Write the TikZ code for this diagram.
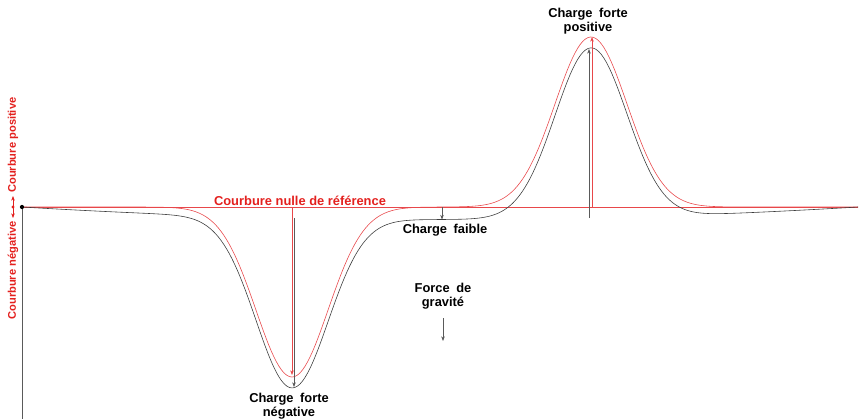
\documentclass[tikz,border=0pt]{standalone}
\usepackage{fontspec}
\setmainfont{Liberation Sans}
\newfontfamily\lblfont[WordSpace=1.8]{Liberation Sans}
\usepackage{tikz}
\usetikzlibrary{arrows.meta}
\definecolor{curvered}{HTML}{E8474A}
\definecolor{textred}{HTML}{E3201E}
\definecolor{curvegray}{HTML}{3C3C3C}
\definecolor{stemgray}{HTML}{5A5A5A}
\tikzset{
  lbl/.style={font=\lblfont\fontsize{11}{11.5}\selectfont\bfseries,align=center,text=black,inner sep=0pt},
  redlbl/.style={font=\fontsize{11}{12}\selectfont\bfseries,text=textred,inner sep=0pt},
  sidelbl/.style={font=\fontsize{9.5}{10}\selectfont\bfseries,text=textred,rotate=90,inner sep=0pt},
  curve/.style={line width=0.5pt,#1},
  myarrow/.style={-{Stealth[length=4pt,width=3pt]},line width=0.45pt,#1},
  myarrow/.default={stemgray},
}

\begin{document}
\begin{tikzpicture}[x=0.03cm,y=-0.03cm,
  declare function={bump(\s,\m)=exp(max(-12,-0.5*((\s-\m)/36)^2));
                    sag(\s)=12.5*(1-((\s-440)/418)^2);}]
  \useasboundingbox (0,0) rectangle (860,419);
  % reference line and the two curvature curves
  \coordinate (start) at (22,207);
  \coordinate (stop) at (858,207);
  \draw[curve=curvered] (start) -- (stop);
  \draw[curve=curvered] plot[domain=22:858,samples=320]
    (\x,{207+170*bump(\x,292)-170*bump(\x,591)});
  \draw[curve=curvegray] plot[domain=22:858,samples=320]
    (\x,{207+sag(\x)+170*bump(\x,292)-170*bump(\x,591)});
  % left axis
  \coordinate (axisend) at (22,419);
  \draw[line width=0.6pt,stemgray] (start) -- (axisend);
  \fill[black] (start) circle[radius=1.8pt];
  \coordinate (sidemid) at (13,207);
  \coordinate (sideup) at (13,196);
  \coordinate (sidedown) at (13,218);
  \draw[myarrow=textred] (sidemid) -- (sideup);
  \draw[myarrow=textred] (sidemid) -- (sidedown);
  \fill[textred] (sidemid) circle[radius=1.3pt];
  \node[sidelbl,anchor=west] (sidepos) at (13,193) {Courbure positive};
  \node[sidelbl,anchor=east] (sideneg) at (13,221) {Courbure négative};
  \node[redlbl,anchor=base] (zeroref) at (300,205) {Courbure nulle de référence};
  % strong negative load
  \coordinate (negref) at (292,207);
  \coordinate (negredtip) at (292,375);
  \coordinate (negbase) at (294,218);
  \coordinate (negtip) at (294,387);
  \draw[myarrow] (negbase) -- (negtip);
  \draw[myarrow=curvered] (negref) -- (negredtip);
  \node[lbl] (neglbl) at (289,406) {Charge forte\\négative};
  % strong positive load
  \coordinate (posref) at (592,207);
  \coordinate (posredtip) at (592,37);
  \coordinate (posbase) at (589,218);
  \coordinate (postip) at (589,49);
  \draw[myarrow] (posbase) -- (postip);
  \draw[myarrow=curvered] (posref) -- (posredtip);
  \node[lbl] (poslbl) at (588,21) {Charge forte\\positive};
  % weak load
  \coordinate (weakref) at (442,207);
  \coordinate (weaktip) at (442,219.5);
  \draw[myarrow] (weakref) -- (weaktip);
  \node[lbl] (weaklbl) at (445,230) {Charge faible};
  % gravity
  \node[lbl] (gravlbl) at (443,296) {Force de\\gravité};
  \coordinate (gravtip) at (443,341);
  \draw[myarrow] ([yshift=-8pt]gravlbl.south) -- (gravtip);
\end{tikzpicture}
\end{document}
